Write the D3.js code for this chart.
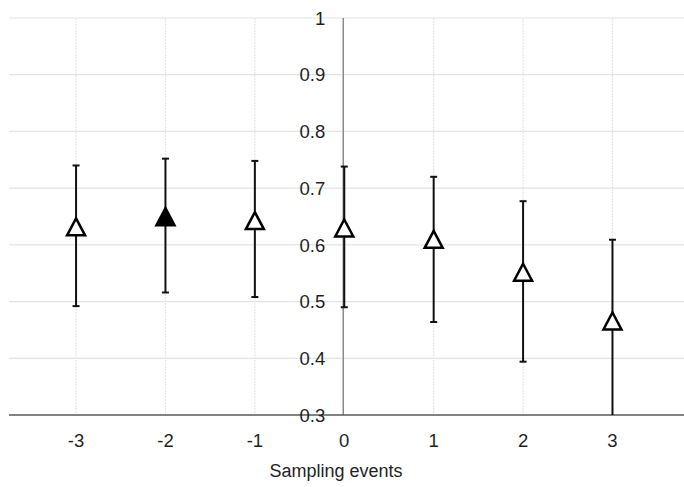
<!DOCTYPE html>
<html>
<head>
<meta charset="utf-8">
<script src="https://cdn.jsdelivr.net/npm/d3@7"></script>
<style>
  html, body { margin: 0; padding: 0; background: #fff; }
  svg { display: block; font-family: "Liberation Sans", Arial, sans-serif; }
</style>
</head>
<body>
<svg id="chart" width="684" height="487"></svg>
<script>
// Sampling events relative to the reference event (0)
const events = [-3, -2, -1, 0, 1, 2, 3];
// Mean value per event
const means  = [0.630, 0.648, 0.641, 0.628, 0.608, 0.550, 0.464];
// Upper and lower ends of the error bars
const upper  = [0.740, 0.752, 0.748, 0.738, 0.720, 0.677, 0.609];
const lower  = [0.492, 0.516, 0.508, 0.490, 0.464, 0.394, 0.290];
// Marker fill: the solid triangle highlights event -2
const filled = [false, true, false, false, false, false, false];
// Axis ticks
const yTicks = [0.3, 0.4, 0.5, 0.6, 0.7, 0.8, 0.9, 1];
const xTicks = [-3, -2, -1, 0, 1, 2, 3];
const xTitle = "Sampling events";

const data = events.map((e, i) => ({
  x: e, m: means[i], hi: upper[i], lo: lower[i], solid: filled[i]
}));

const svg = d3.select("#chart");
const W = 684, H = 487;

const x = d3.scaleLinear().domain([-3.75, 3.8]).range([9, W]);
const y = d3.scaleLinear().domain([0.3, 1]).range([415, 18]);

// clip everything plotted to the value range of the axes
svg.append("defs").append("clipPath").attr("id", "plot")
  .append("rect")
  .attr("x", x.range()[0]).attr("y", y(1) - 12)
  .attr("width", x.range()[1] - x.range()[0])
  .attr("height", y(0.3) - y(1) + 12);

// horizontal gridlines
svg.append("g")
  .selectAll("line").data(yTicks.filter(t => t > 0.3)).join("line")
  .attr("x1", x.range()[0]).attr("x2", x.range()[1])
  .attr("y1", d => y(d)).attr("y2", d => y(d))
  .attr("stroke", "#e3e3e3").attr("stroke-width", 1.2);

// vertical gridlines (dotted)
svg.append("g")
  .selectAll("line").data(xTicks.filter(t => t !== 0)).join("line")
  .attr("x1", d => x(d)).attr("x2", d => x(d))
  .attr("y1", y(1)).attr("y2", y(0.3))
  .attr("stroke", "#e6e6e6").attr("stroke-width", 1.2)
  .attr("stroke-dasharray", "2,1");

// y axis through x = 0
svg.append("line")
  .attr("x1", x(0) - 1).attr("x2", x(0) - 1)
  .attr("y1", y(1)).attr("y2", y(0.3))
  .attr("stroke", "#8a8a8a").attr("stroke-width", 1.5);

// x axis at the bottom of the value range
svg.append("line")
  .attr("x1", x.range()[0]).attr("x2", x.range()[1])
  .attr("y1", y(0.3)).attr("y2", y(0.3))
  .attr("stroke", "#595959").attr("stroke-width", 1.5);

// y tick labels, right-aligned left of the y axis
svg.append("g")
  .selectAll("text").data(yTicks).join("text")
  .attr("x", x(0) - 19)
  .attr("y", d => y(d))
  .attr("dy", "0.36em")
  .attr("text-anchor", "end")
  .attr("font-size", 18.5)
  .attr("fill", "#1f1f1f")
  .text(d => d3.format("~g")(d));

// x tick labels
svg.append("g")
  .selectAll("text").data(xTicks).join("text")
  .attr("x", d => x(d))
  .attr("y", y(0.3) + 32)
  .attr("text-anchor", "middle")
  .attr("font-size", 18.5)
  .attr("fill", "#1f1f1f")
  .text(d => d);

// x axis title
svg.append("text")
  .attr("x", 336).attr("y", 477)
  .attr("text-anchor", "middle")
  .attr("font-size", 18)
  .attr("fill", "#1f1f1f")
  .text(xTitle);

const plot = svg.append("g").attr("clip-path", "url(#plot)");

// error bars
const cap = 3.5;
const bars = plot.selectAll("g.bar").data(data).join("g").attr("class", "bar")
  .attr("stroke", "#111").attr("stroke-width", 2);
bars.append("line")
  .attr("x1", d => x(d.x)).attr("x2", d => x(d.x))
  .attr("y1", d => y(d.hi)).attr("y2", d => y(d.lo));
bars.append("line")
  .attr("x1", d => x(d.x) - cap).attr("x2", d => x(d.x) + cap)
  .attr("y1", d => y(d.hi)).attr("y2", d => y(d.hi));
bars.append("line")
  .attr("x1", d => x(d.x) - cap).attr("x2", d => x(d.x) + cap)
  .attr("y1", d => y(d.lo)).attr("y2", d => y(d.lo));

// triangle markers at the means
const tw = 18, th = 17;
const tri = `M0,${-th / 2 - 1}L${tw / 2},${th / 2 - 1}L${-tw / 2},${th / 2 - 1}Z`;
plot.selectAll("path.marker").data(data).join("path").attr("class", "marker")
  .attr("d", tri)
  .attr("transform", d => `translate(${x(d.x)},${y(d.m)})`)
  .attr("fill", d => d.solid ? "#000" : "#fff")
  .attr("stroke", "#000")
  .attr("stroke-width", 2.5)
  .attr("stroke-linejoin", "miter");
</script>
</body>
</html>
